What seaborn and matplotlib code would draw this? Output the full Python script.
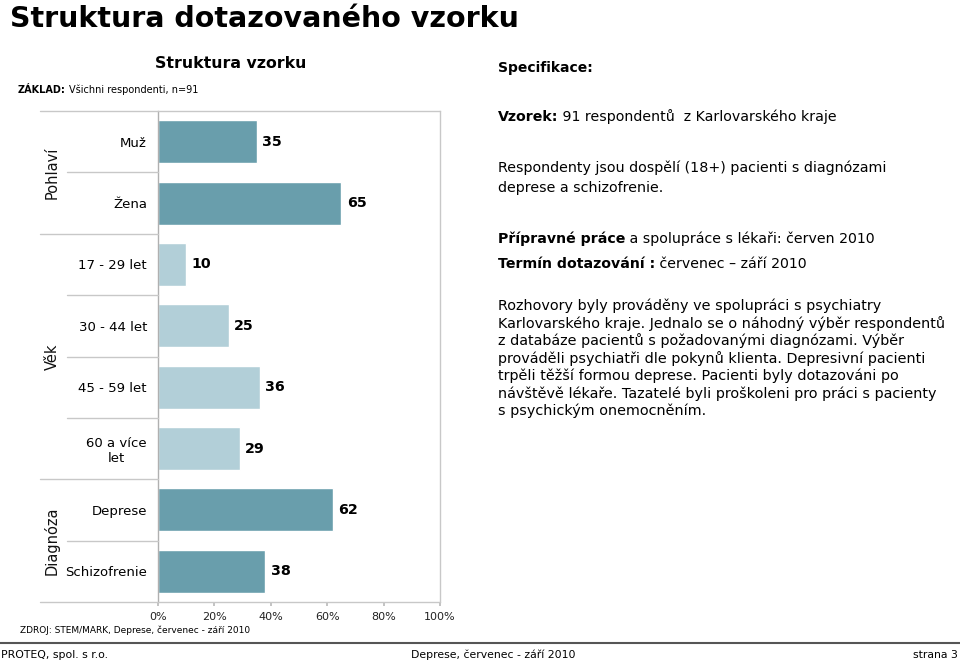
import matplotlib
matplotlib.use("Agg")
import matplotlib.pyplot as plt
import matplotlib.transforms as mtransforms
from matplotlib.lines import Line2D
import seaborn as sns
import pandas as pd

# ---- data ----
categories = ["Muž", "Žena", "17 - 29 let", "30 - 44 let", "45 - 59 let",
              "60 a více\nlet", "Deprese", "Schizofrenie"]
values = [35, 65, 10, 25, 36, 29, 62, 38]
groups = ["Pohlaví", "Pohlaví", "Věk", "Věk", "Věk", "Věk", "Diagnóza", "Diagnóza"]
group_names = ["Pohlaví", "Věk", "Diagnóza"]
x_ticks = [0, 20, 40, 60, 80, 100]
x_tick_labels = ["0%", "20%", "40%", "60%", "80%", "100%"]

DARK = "#699EAC"
LIGHT = "#B2CFD8"
group_colors = {"Pohlaví": DARK, "Věk": LIGHT, "Diagnóza": DARK}

df = pd.DataFrame({"category": categories, "value": values, "group": groups})
palette = {c: group_colors[g] for c, g in zip(categories, groups)}

sns.set_theme(style="white")
plt.rcParams["font.family"] = ["DejaVu Sans"]
plt.rcParams["text.color"] = "black"
plt.rcParams["xtick.color"] = "black"
plt.rcParams["ytick.color"] = "black"

W, H = 960, 663
fig = plt.figure(figsize=(9.6, 6.63), dpi=100)

def fx(px):
    return px / W

def fy(py):
    return 1 - py / H

ax_left, ax_right, ax_top, ax_bottom = 158, 440, 111, 602
ax = fig.add_axes([fx(ax_left), fy(ax_bottom), fx(ax_right - ax_left), (ax_bottom - ax_top) / H])

sns.barplot(data=df, x="value", y="category", hue="category", palette=palette,
            order=categories, hue_order=categories, legend=False, width=0.70,
            saturation=1, ax=ax, dodge=False)

for cont in ax.containers:
    ax.bar_label(cont, padding=4, fontsize=10.3, fontweight="bold", color="black")

ax.set_xlim(0, 100)
ax.set_ylim(len(categories) - 0.5, -0.5)
ax.set_xticks(x_ticks)
ax.set_xticklabels(x_tick_labels, fontsize=8, color="#222222")
ax.tick_params(axis="x", length=3, color="#bbbbbb", pad=4, bottom=True)
ax.tick_params(axis="y", length=0, pad=8, labelsize=9.5)
for lab in ax.get_yticklabels():
    lab.set_multialignment("center")
    lab.set_color("black")
ax.set_xlabel("")
ax.set_ylabel("")
for side in ["left", "right"]:
    ax.spines[side].set_visible(True)
    ax.spines[side].set_color("#c8c8c8")
    ax.spines[side].set_linewidth(1)
ax.spines["left"].set_color("#b0b0b0")
ax.spines["top"].set_visible(False)
ax.spines["bottom"].set_visible(False)

# separators and outer lines (x in figure coords, y in data coords)
trans = mtransforms.blended_transform_factory(fig.transFigure, ax.transData)
n = len(categories)
for i in range(n + 1):
    yb = i - 0.5
    if i == 0 or i == n:
        x0, x1 = 40, 440
    elif groups[i] != groups[i - 1]:
        x0, x1 = 40, 158
    else:
        x0, x1 = 67, 158
    fig.add_artist(Line2D([fx(x0), fx(x1)], [yb, yb], transform=trans,
                          color="#c8c8c8", lw=1))

# group labels
for g in group_names:
    idx = [i for i, gg in enumerate(groups) if gg == g]
    yc = (idx[0] + idx[-1]) / 2
    fig.text(fx(52), yc, g, transform=trans, rotation=90, ha="center", va="center",
             fontsize=10.5, color="#111111")

# titles and texts
fig.text(fx(10), fy(27), "Struktura dotazovaného vzorku", fontsize=20.5, fontweight="bold",
         va="baseline", ha="left")
fig.text(fx(231), fy(63), "Struktura vzorku", fontsize=11.3, fontweight="bold",
         va="center", ha="center")
t = fig.text(fx(18), fy(90), "ZÁKLAD:", fontsize=7, fontweight="bold", va="center", ha="left")
fig.canvas.draw()
bb = t.get_window_extent()
fig.text(bb.x1 / W + 0.003, fy(90), "Všichni respondenti, n=91", fontsize=7, va="center", ha="left")

def mixed(x, y, parts, size=10):
    cur = x
    for txt, bold in parts:
        tt = fig.text(cur, y, txt, fontsize=size, fontweight="bold" if bold else "normal",
                      va="center", ha="left")
        fig.canvas.draw()
        cur = tt.get_window_extent().x1 / W

rx = fx(498)
mixed(rx, fy(68), [("Specifikace:", True)], 10)
mixed(rx, fy(117), [("Vzorek:", True), (" 91 respondentů  z Karlovarského kraje", False)], 10.2)
mixed(rx, fy(168), [("Respondenty jsou dospělí (18+) pacienti s diagnózami", False)], 10.3)
mixed(rx, fy(188), [("deprese a schizofrenie.", False)], 10.3)
mixed(rx, fy(239), [("Přípravné práce", True), (" a spolupráce s lékaři: červen 2010", False)], 10.15)
mixed(rx, fy(264), [("Termín dotazování :", True), (" červenec – září 2010", False)], 10.15)
para = ["Rozhovory byly prováděny ve spolupráci s psychiatry",
        "Karlovarského kraje. Jednalo se o náhodný výběr respondentů",
        "z databáze pacientů s požadovanými diagnózami. Výběr",
        "prováděli psychiatři dle pokynů klienta. Depresivní pacienti",
        "trpěli těžší formou deprese. Pacienti byly dotazováni po",
        "návštěvě lékaře. Tazatelé byli proškoleni pro práci s pacienty",
        "s psychickým onemocněním."]
for k, line in enumerate(para):
    fig.text(rx, fy(306 + k * 17.5), line, fontsize=10.4, va="center", ha="left")

fig.text(fx(20), fy(630), "ZDROJ: STEM/MARK, Deprese, červenec - září 2010", fontsize=6.5,
         va="center", ha="left")

# footer
fig.add_artist(Line2D([0, 1], [fy(643), fy(643)], transform=fig.transFigure,
                      color="#555555", lw=1.5))
fig.text(fx(1), fy(655), "PROTEQ, spol. s r.o.", fontsize=7.8, va="center", ha="left")
fig.text(fx(493), fy(655), "Deprese, červenec - září 2010", fontsize=7.8, va="center", ha="center")
fig.text(fx(958), fy(655), "strana 3", fontsize=7.8, va="center", ha="right")

fig.savefig("out.png", dpi=100)
